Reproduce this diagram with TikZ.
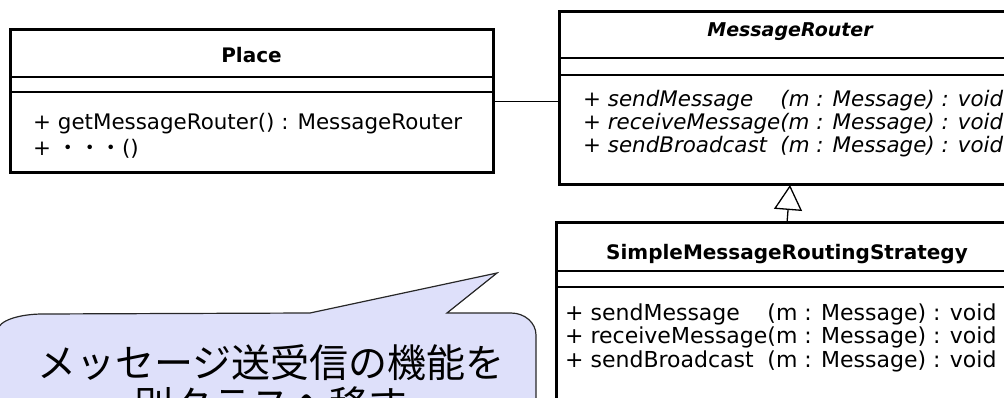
\documentclass[tikz,border=0pt]{standalone}
\usepackage{fontspec}
\usepackage{calc}
\setmainfont{DejaVu Sans}
\newfontfamily\jpfont{Noto Sans CJK JP}
\usetikzlibrary{arrows.meta}
\definecolor{callfill}{RGB}{222,224,250}
\definecolor{callline}{RGB}{40,40,40}
\newcommand{\umlmeth}[2]{\makebox[\widthof{+ receiveMessage}][l]{#1}#2}
\begin{document}
\begin{tikzpicture}[x=1pt,y=-1pt,
  umlbox/.style={draw=black, line width=3pt, fill=white, inner sep=0pt, outer sep=0pt, rectangle, anchor=north west},
  divider/.style={line width=1.2pt},
  umltitle/.style={anchor=base, inner sep=0pt, font=\fontsize{20}{24}\selectfont\bfseries},
  umltext/.style={anchor=base west, inner sep=0pt, font=\fontsize{21.4}{24}\selectfont},
  umltextb/.style={anchor=base west, inner sep=0pt, font=\fontsize{22}{24}\selectfont},
  assoc/.style={line width=1.4pt},
  gen/.style={line width=1.3pt, -{Triangle[open, length=25pt, width=28pt]}},
  callout/.style={draw=callline, line width=1.2pt, fill=callfill},
  calltext/.style={anchor=base, inner sep=0pt, font=\jpfont\fontsize{39}{42}\selectfont}
]
\useasboundingbox (0,0) rectangle (1004,398);
\clip (0,0) rectangle (1004,398);

% callout
\draw[callout] (-2,430) -- (-2,330)
  arc[start angle=180, end angle=90, x radius=45pt, y radius=16pt]
  -- (310,313) -- (497,273) -- (447,313) -- (511,313)
  arc[start angle=90, end angle=0, x radius=25pt, y radius=22pt] -- (536,430) -- cycle;
\node[calltext] (line1) at (271,377) {メッセージ送受信の機能を};
\node[calltext] (line2) at (271,419) {別クラスへ移す};

% Place
\node[umlbox, minimum width=483pt, minimum height=143pt] (place) at (10,30) {};
\draw[divider] (10,77) -- (493,77);
\draw[divider] (10,92) -- (493,92);
\node[umltitle] (placename) at (251.5,63) {Place};
\node[umltext] (p1) at (33,130) {+ getMessageRouter() : MessageRouter};
\node[umltext] (p2) at (33,156) {+ {\jpfont ・・・}()};

% MessageRouter
\node[umlbox, minimum width=462pt, minimum height=173pt] (mr) at (559,12) {};
\draw[divider] (559,58) -- (1021,58);
\draw[divider] (559,75) -- (1021,75);
\node[umltitle, font=\fontsize{19}{24}\selectfont\bfseries\itshape] (mrname) at (790,37) {MessageRouter};
\node[umltext, font=\fontsize{21.4}{24}\selectfont\itshape] (m1) at (583,107) {\umlmeth{+ sendMessage}{(m : Message) : void}};
\node[umltext, font=\fontsize{21.4}{24}\selectfont\itshape] (m2) at (583,130) {\umlmeth{+ receiveMessage}{(m : Message) : void}};
\node[umltext, font=\fontsize{21.4}{24}\selectfont\itshape] (m3) at (583,153) {\umlmeth{+ sendBroadcast}{(m : Message) : void}};

% SimpleMessageRoutingStrategy
\node[umlbox, minimum width=462pt, minimum height=177pt] (smrs) at (556,223) {};
\draw[divider] (556,271) -- (1018,271);
\draw[divider] (556,287) -- (1018,287);
\node[umltitle] (smrsname) at (787,259) {SimpleMessageRoutingStrategy};
\node[umltextb] (s1) at (565,320) {\umlmeth{+ sendMessage}{(m : Message) : void}};
\node[umltextb] (s2) at (565,343) {\umlmeth{+ receiveMessage}{(m : Message) : void}};
\node[umltextb] (s3) at (565,367) {\umlmeth{+ sendBroadcast}{(m : Message) : void}};

% connectors
\draw[assoc] (place.east) -- (place.east -| mr.west);
\draw[gen] (smrs.north) -- (mr.south);
\end{tikzpicture}
\end{document}
